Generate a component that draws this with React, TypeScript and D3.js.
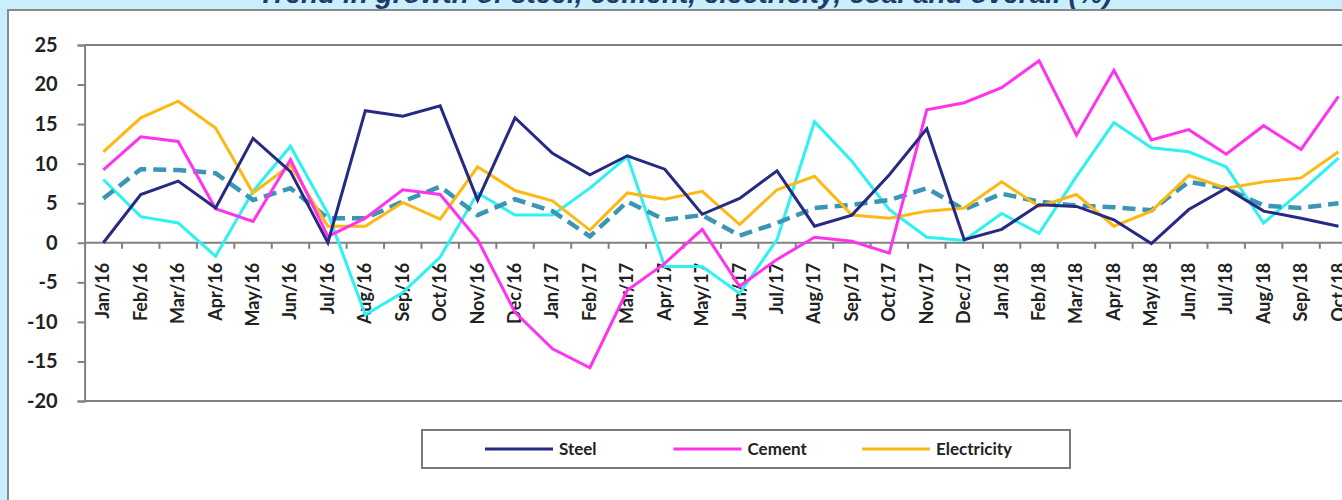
import React, { useEffect, useRef } from "react";
import * as d3 from "d3";

const months = [
  "Jan/16", "Feb/16", "Mar/16", "Apr/16", "May/16", "Jun/16", "Jul/16", "Aug/16", "Sep/16", "Oct/16", "Nov/16", "Dec/16",
  "Jan/17", "Feb/17", "Mar/17", "Apr/17", "May/17", "Jun/17", "Jul/17", "Aug/17", "Sep/17", "Oct/17", "Nov/17", "Dec/17",
  "Jan/18", "Feb/18", "Mar/18", "Apr/18", "May/18", "Jun/18", "Jul/18", "Aug/18", "Sep/18", "Oct/18",
];

const steel = [0, 6.1, 7.8, 4.4, 13.2, 9.0, 0, 16.7, 16.0, 17.3, 5.4, 15.8, 11.3, 8.6, 11.0, 9.3, 3.6, 5.6, 9.1, 2.1, 3.5, 8.6, 14.4, 0.4, 1.7, 4.8, 4.6, 2.9, -0.1, 4.2, 6.9, 4.0, 3.1, 2.1];
const cement = [9.2, 13.4, 12.8, 4.3, 2.7, 10.5, 0.8, 3.1, 6.7, 6.1, 0.4, -8.8, -13.4, -15.8, -6.0, -2.6, 1.7, -5.5, -2.1, 0.7, 0.2, -1.3, 16.8, 17.7, 19.6, 23.0, 13.6, 21.8, 13.0, 14.3, 11.2, 14.8, 11.8, 18.5];
const electricity = [11.5, 15.8, 17.9, 14.5, 6.3, 9.8, 2.1, 2.1, 5.1, 3.0, 9.6, 6.6, 5.3, 1.6, 6.3, 5.5, 6.5, 2.3, 6.7, 8.4, 3.5, 3.1, 4.0, 4.4, 7.7, 4.6, 6.1, 2.1, 4.0, 8.5, 6.9, 7.7, 8.2, 11.5];
const coal = [8.0, 3.3, 2.5, -1.7, 6.5, 12.2, 3.7, -9.1, -6.3, -1.8, 6.3, 3.5, 3.5, 6.9, 10.9, -3.0, -3.0, -6.4, 0.4, 15.3, 10.3, 4.2, 0.7, 0.3, 3.7, 1.2, 8.4, 15.2, 12.0, 11.5, 9.6, 2.5, 6.5, 10.7];
const overall = [5.6, 9.3, 9.2, 8.8, 5.4, 6.9, 3.1, 3.1, 5.2, 7.1, 3.5, 5.5, 4.0, 0.8, 5.2, 2.9, 3.5, 0.9, 2.5, 4.4, 4.8, 5.4, 6.9, 4.2, 6.2, 5.2, 4.7, 4.5, 4.1, 7.7, 6.9, 4.7, 4.4, 5.0];

const yTicks = [25, 20, 15, 10, 5, 0, -5, -10, -15, -20];
const legendItems = ["Steel", "Cement", "Electricity"];

const App = () => {
  const svgRef = useRef<SVGSVGElement>(null);

  useEffect(() => {
    const svg = d3.select(svgRef.current);
    svg.selectAll("*").remove();

    const W = 1342;
    const H = 500;
    const left = 84.6;
    const band = 37.43;
    const font = "Lato, Calibri, sans-serif";

    // background and chart panel
    svg.append("rect").attr("width", W).attr("height", H).attr("fill", "#c9effd");
    svg.append("rect").attr("x", 8).attr("y", 10).attr("width", W).attr("height", H)
      .attr("fill", "#fff").attr("stroke", "#8a8a8a").attr("stroke-width", 2);

    // title, mostly cut off at the top like the source image
    svg.append("text")
      .attr("x", 685).attr("y", 3)
      .attr("text-anchor", "middle")
      .attr("font-family", "Liberation Sans, Arial, sans-serif")
      .attr("font-weight", "bold").attr("font-style", "italic")
      .attr("font-size", 28).attr("fill", "#1f3a6b")
      .text("Trend in growth of steel, cement, electricity, coal and overall  (%)");

    const x = d3.scaleBand().domain(months).range([left, left + band * months.length]);
    const y = d3.scaleLinear().domain([-20, 25]).range([401, 45]);
    const cx = (m: string) => (x(m) as number) + x.bandwidth() / 2;

    const axisColor = "#808080";
    const right = left + band * months.length;

    // frame lines (top, bottom) and y axis
    svg.append("line").attr("x1", left).attr("x2", right).attr("y1", y(25)).attr("y2", y(25))
      .attr("stroke", axisColor).attr("stroke-width", 2);
    svg.append("line").attr("x1", left).attr("x2", right).attr("y1", y(-20)).attr("y2", y(-20))
      .attr("stroke", axisColor).attr("stroke-width", 2);

    const yAxis = svg.append("g")
      .attr("transform", `translate(${left},0)`)
      .call(d3.axisLeft(y).tickValues(yTicks).tickSize(7).tickPadding(20).tickFormat((d) => String(d)));
    yAxis.select(".domain").attr("stroke", axisColor).attr("stroke-width", 2);
    yAxis.selectAll(".tick line").attr("stroke", axisColor).attr("stroke-width", 2);
    yAxis.selectAll(".tick text")
      .attr("font-family", font).attr("font-weight", "bold")
      .attr("font-size", 20).attr("fill", "#222");

    // zero axis with ticks between categories
    svg.append("line").attr("x1", left).attr("x2", right).attr("y1", y(0)).attr("y2", y(0))
      .attr("stroke", axisColor).attr("stroke-width", 2);
    svg.append("g").selectAll("line")
      .data(months.slice(1))
      .join("line")
      .attr("x1", (d) => x(d) as number).attr("x2", (d) => x(d) as number)
      .attr("y1", y(0)).attr("y2", y(0) + 6)
      .attr("stroke", axisColor).attr("stroke-width", 2);

    svg.append("g").selectAll("text")
      .data(months)
      .join("text")
      .attr("transform", (d) => `translate(${cx(d) + 6},${y(0) + 20}) rotate(-90)`)
      .attr("text-anchor", "end")
      .attr("font-family", font)
      .attr("font-weight", "bold").attr("font-size", 18).attr("fill", "#222")
      .text((d) => d);

    const series = [
      { values: coal, color: "#2ef2f2", width: 3, dash: null },
      { values: overall, color: "#3b96b5", width: 4.5, dash: "13,7" },
      { values: electricity, color: "#fdb813", width: 3, dash: null },
      { values: cement, color: "#ff33ee", width: 3, dash: null },
      { values: steel, color: "#272a82", width: 3, dash: null },
    ];

    const line = d3.line<number>()
      .x((_, i) => cx(months[i]))
      .y((d) => y(d));

    svg.append("g").selectAll("path")
      .data(series)
      .join("path")
      .attr("d", (s) => line(s.values))
      .attr("fill", "none")
      .attr("stroke", (s) => s.color)
      .attr("stroke-width", (s) => s.width)
      .attr("stroke-dasharray", (s) => s.dash)
      .attr("stroke-linejoin", "miter");

    // legend
    svg.append("rect").attr("x", 422).attr("y", 430).attr("width", 648).attr("height", 38)
      .attr("fill", "#fff").attr("stroke", "#7a7a7a").attr("stroke-width", 2);
    const legendColors = ["#272a82", "#ff33ee", "#fdb813"];
    const legendX = d3.scalePoint().domain(legendItems).range([485, 862]);
    const lg = svg.append("g").selectAll("g").data(legendItems).join("g")
      .attr("transform", (d) => `translate(${legendX(d)},449)`);
    lg.append("line").attr("x1", 0).attr("x2", 68).attr("stroke", (_, i) => legendColors[i]).attr("stroke-width", 3);
    lg.append("text").attr("x", 74).attr("y", 6)
      .attr("font-family", font)
      .attr("font-weight", "bold").attr("font-size", 17).attr("fill", "#222")
      .text((d) => d);
  }, []);

  return (
    <svg ref={svgRef} width={1342} height={500} style={{ position: "absolute", left: 0, top: 0 }} />
  );
};

export default App;
